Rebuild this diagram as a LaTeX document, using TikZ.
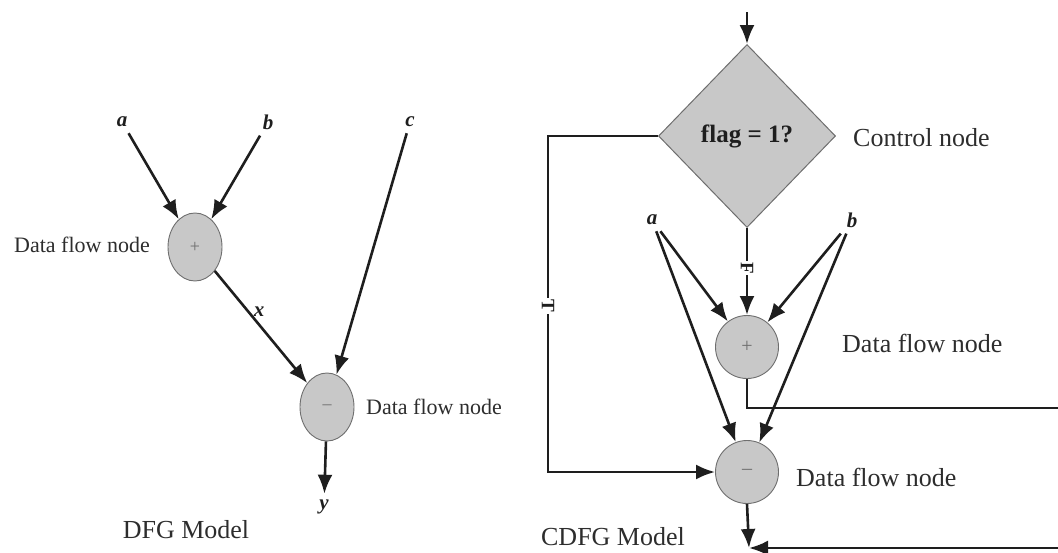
\documentclass[tikz,border=0pt]{standalone}
\usepackage{fontspec}
\setmainfont{Liberation Serif}
\usetikzlibrary{arrows.meta,shapes.geometric,calc}
\definecolor{nodegray}{RGB}{200,200,200}
\definecolor{edgegray}{RGB}{110,110,110}
\definecolor{ink}{RGB}{30,30,30}
\definecolor{txt}{RGB}{45,45,45}
\begin{document}
\begin{tikzpicture}[x=1pt,y=-1pt,
  arr/.style={draw=ink,line width=2.6pt,-{Latex[length=19pt,width=15pt]}},
  ln/.style={draw=ink,line width=2.6pt},
  dfgop/.style={ellipse,draw=edgegray,line width=0.9pt,fill=nodegray,minimum width=54pt,minimum height=68pt,inner sep=0pt,text=edgegray,font=\fontsize{18}{20}\selectfont},
  cdfgop/.style={circle,draw=edgegray,line width=0.9pt,fill=nodegray,minimum size=63pt,inner sep=0pt,text=edgegray,font=\fontsize{20}{22}\selectfont},
  var/.style={inner sep=6pt,text=ink,font=\fontsize{21}{24}\selectfont\bfseries\itshape},
  lbls/.style={inner sep=0pt,text=txt,font=\fontsize{22}{26}\selectfont},
  lblb/.style={inner sep=0pt,text=txt,font=\fontsize{26}{30}\selectfont},
  cond/.style={fill=white,inner sep=1.5pt,rotate=-90,text=ink,font=\fontsize{19}{20}\selectfont\bfseries}]
\useasboundingbox (0,0) rectangle (1058,552);

% ---------- DFG ----------
\node[dfgop] (p1) at (195,247) {+};
\node[dfgop] (m1) at (327,407) {--};
\node[var] (va) at (122,122) {a};
\node[var] (vb) at (268,122) {b};
\node[var] (vc) at (410,122) {c};
\node[var] (vy) at (324,507) {y};
\node[var] (vx) at (259,312) {x};
\draw[arr] (va) -- (p1);
\draw[arr] (vb) -- (p1);
\draw[arr] (vc) -- (m1);
\draw[arr] (p1) -- (m1);
\draw[arr] (m1) -- (vy);
\node[lbls,anchor=east] (dl1) at (150,245) {Data flow node};
\node[lbls,anchor=west] (dl2) at (366,407) {Data flow node};
\node[lblb] (dfgm) at (186,530) {DFG Model};

% ---------- CDFG ----------
\node[diamond,draw=edgegray,line width=1pt,fill=nodegray,minimum width=177pt,minimum height=183pt,inner sep=0pt,
      font=\fontsize{25}{28}\selectfont\bfseries,text=ink] (d) at (747,136) {flag = 1?};
\coordinate (top) at (747,12);
\draw[arr] (top) -- (d.north);
\node[lblb,anchor=west] (cn) at (853,138) {Control node};

\node[cdfgop] (p2) at (747,347) {+};
\node[cdfgop] (m2) at (747,472) {--};
\node[var] (va2) at (652,220) {a};
\node[var] (vb2) at (852,220) {b};
\draw[arr] (va2) -- (p2);
\draw[arr] (va2) -- (m2);
\draw[arr] (vb2) -- (p2);
\draw[arr] (vb2) -- (m2);

% control edges
\coordinate (lx) at (548,0);
\draw[arr] (d.west) -| (lx |- m2.west) -- (m2.west);
\node[cond] (tl) at (548,306) {T};
\draw[arr] (d.south) -- (p2.north);
\node[cond] (fl) at (747,268) {F};

% outputs
\coordinate (r1) at (1060,408);
\coordinate (r2) at (1060,548);
\coordinate (j) at (749,548);
\draw[ln] (p2.south) |- (r1);
\draw[arr] (m2.south) -- (j);
\draw[arr] (r2) -- (j);

\node[lblb,anchor=west] (dl3) at (842,343) {Data flow node};
\node[lblb,anchor=west] (dl4) at (796,477) {Data flow node};
\node[lblb] (cdfgm) at (613,537) {CDFG Model};
\end{tikzpicture}
\end{document}
